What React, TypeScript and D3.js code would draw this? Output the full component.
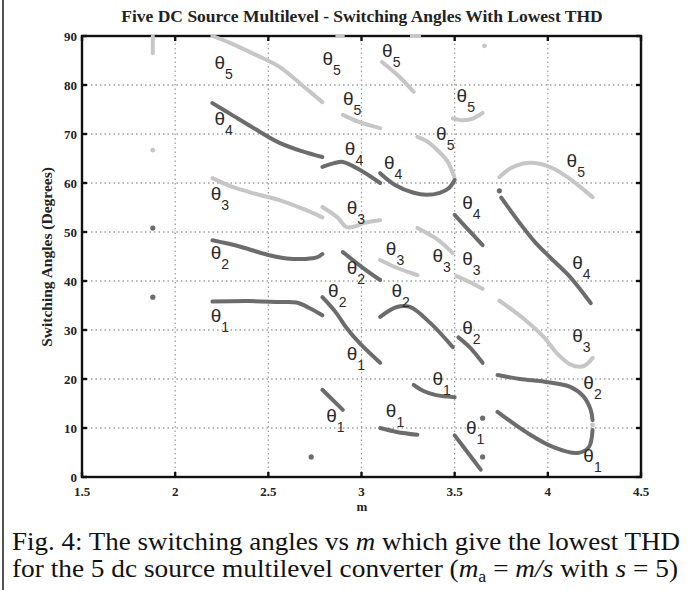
import { useEffect, useRef } from "react"
import * as d3 from "d3"

type Pt = [number, number]

// m vs switching angle (degrees)
const theta1A: Pt[] = [[2.2, 35.8], [2.4, 35.9], [2.56, 35.7], [2.65, 35.6], [2.72, 34.5], [2.79, 33]]
const theta1B: Pt[] = [[2.79, 36.7], [2.86, 33.7], [2.92, 30.4], [2.99, 27.3], [3.1, 23.3]]
const theta1Bs: Pt[] = [[2.79, 17.8], [2.9, 13.7]]
const theta1C: Pt[] = [[3.1, 10], [3.19, 9.2], [3.3, 8.6]]
const theta1D: Pt[] = [[3.28, 18.8], [3.33, 17.6], [3.4, 16.7], [3.5, 16.3]]
const theta1D2: Pt[] = [[3.5, 8.5], [3.57, 5], [3.64, 1.5]]
const theta1E: Pt[] = [[3.73, 13.3], [3.89, 9], [4.03, 6.1], [4.16, 4.9], [4.22, 6.1], [4.24, 9.6]]

const theta2A: Pt[] = [[2.2, 48.3], [2.35, 47], [2.5, 45.3], [2.6, 44.6], [2.7, 44.5], [2.76, 44.8], [2.79, 45.5]]
const theta2B: Pt[] = [[2.9, 45.9], [3.0, 42.9], [3.1, 40.2]]
const theta2C: Pt[] = [[3.1, 32.7], [3.19, 34.7], [3.26, 34.7], [3.37, 31.4], [3.49, 26.5]]
const theta2D: Pt[] = [[3.52, 28.5], [3.58, 26.5], [3.65, 23.3]]
const theta2E: Pt[] = [[3.73, 20.8], [3.85, 20], [3.99, 19.4], [4.12, 18.4], [4.19, 16.5], [4.23, 13.7], [4.24, 11.6]]

const theta3A: Pt[] = [[2.2, 61], [2.3, 59.3], [2.43, 57.8], [2.56, 56.5], [2.68, 54.8], [2.79, 53]]
const theta3B: Pt[] = [[2.79, 55.1], [2.87, 53], [2.92, 51], [2.97, 51.2], [3.01, 51.8], [3.1, 52.4]]
const theta3C: Pt[] = [[3.3, 50.8], [3.41, 48.4], [3.49, 45.7]]
const theta3D: Pt[] = [[3.1, 44.3], [3.19, 42.7], [3.3, 41.2]]
const theta3D2: Pt[] = [[3.51, 41], [3.58, 39.8], [3.65, 38.4]]
const theta3E: Pt[] = [[3.74, 36], [3.88, 32], [3.98, 28.5], [4.05, 25.2], [4.12, 23], [4.19, 22.6], [4.24, 24.3]]

const theta4A: Pt[] = [[2.2, 76.3], [2.3, 74], [2.43, 71], [2.56, 68.2], [2.68, 66.5], [2.79, 65.3]]
const theta4B: Pt[] = [[2.79, 63.3], [2.85, 64], [2.9, 64.3], [2.99, 62.7], [3.1, 60]]
const theta4C: Pt[] = [[3.1, 62], [3.18, 59.6], [3.28, 58], [3.35, 57.6], [3.42, 58], [3.47, 59], [3.5, 60.6]]
const theta4D: Pt[] = [[3.5, 53.5], [3.56, 51], [3.65, 47.3]]
const theta4E: Pt[] = [[3.75, 57], [3.85, 51.8], [3.93, 48], [4.01, 44.9], [4.12, 40.8], [4.23, 35.5]]

const theta5A: Pt[] = [[2.2, 90], [2.3, 88.5], [2.43, 86.2], [2.56, 83.7], [2.68, 80], [2.79, 76.5]]
const theta5B: Pt[] = [[2.9, 73.9], [2.99, 72.4], [3.1, 71.2]]
const theta5C: Pt[] = [[3.11, 84.7], [3.2, 81.8], [3.28, 78.6]]
const theta5D: Pt[] = [[3.3, 69.4], [3.36, 68.3], [3.41, 66.6], [3.46, 64.5], [3.5, 61]]
const theta5D2: Pt[] = [[3.49, 73.2], [3.55, 72.8], [3.6, 73.2], [3.65, 74.3]]
const theta5E: Pt[] = [[3.74, 61.2], [3.8, 63], [3.89, 64.1], [4.01, 63.3], [4.12, 60.8], [4.24, 57.1]]
const theta5Top1: Pt[] = [[2.87, 90], [2.9, 90]]
const theta5Top2: Pt[] = [[3.27, 90], [3.31, 90]]
const theta5Top0: Pt[] = [[1.88, 86.5], [1.88, 90]]

const darkCurves = [theta1A, theta1B, theta1Bs, theta1C, theta1D, theta1D2, theta1E,
  theta2A, theta2B, theta2C, theta2D, theta2E,
  theta4A, theta4B, theta4C, theta4D, theta4E]
const lightCurves = [theta3A, theta3B, theta3C, theta3D, theta3D2, theta3E,
  theta5A, theta5B, theta5C, theta5D, theta5D2, theta5E, theta5Top0, theta5Top1, theta5Top2]

const darkDots: Pt[] = [[1.88, 36.7], [1.88, 50.8], [2.73, 4.1], [3.65, 4.1], [3.65, 12], [3.74, 58.4]]
const lightDots: Pt[] = [[1.88, 66.7], [3.66, 88], [4.24, 10.6]]

// θ labels: m, angle, subscript
const labels: [number, number, string][] = [
  [2.24, 84.7, "5"], [2.24, 73.3, "4"], [2.22, 58, "3"], [2.22, 45.9, "2"], [2.22, 33.1, "1"],
  [2.82, 85.5, "5"], [2.93, 77.3, "5"], [3.14, 87.1, "5"], [3.54, 78, "5"], [3.43, 70.2, "5"], [4.13, 64.7, "5"],
  [2.94, 67.1, "4"], [3.15, 64.3, "4"], [3.57, 56.1, "4"], [4.16, 43.9, "4"],
  [2.95, 55.1, "3"], [3.16, 46.7, "3"], [3.41, 45.3, "3"], [3.57, 44.7, "3"], [4.16, 29, "3"],
  [2.95, 42.9, "2"], [2.85, 38.2, "2"], [3.19, 38.2, "2"], [3.57, 30.6, "2"], [4.22, 19.4, "2"],
  [2.95, 25.3, "1"], [2.84, 12.7, "1"], [3.16, 13.7, "1"], [3.41, 20.2, "1"], [3.59, 10.2, "1"], [4.22, 4.5, "1"],
]

const xTicks = [1.5, 2, 2.5, 3, 3.5, 4, 4.5]
const yTicks = [0, 10, 20, 30, 40, 50, 60, 70, 80, 90]

export default function App() {
  const svgRef = useRef<SVGSVGElement>(null)

  useEffect(() => {
    const svg = d3.select(svgRef.current!)
    svg.selectAll("*").remove()

    const x = d3.scaleLinear().domain([1.5, 4.5]).range([82, 641])
    const y = d3.scaleLinear().domain([0, 90]).range([477, 36])
    const serif = "'Liberation Serif', 'Times New Roman', serif"

    // page rule on the left
    svg.append("line").attr("x1", 3).attr("x2", 3).attr("y1", 0).attr("y2", 590)
      .attr("stroke", "#555").attr("stroke-width", 2)

    // grid
    const grid = svg.append("g").attr("stroke", "#a0a0a0").attr("stroke-width", 1.3)
      .attr("stroke-dasharray", "1.5,3")
    grid.selectAll(".gv").data(xTicks.slice(1, -1)).join("line").attr("class", "gv")
      .attr("x1", (d) => x(d)).attr("x2", (d) => x(d)).attr("y1", y(0)).attr("y2", y(90))
    grid.selectAll(".gh").data(yTicks.slice(1, -1)).join("line").attr("class", "gh")
      .attr("x1", x(1.5)).attr("x2", x(4.5)).attr("y1", (d) => y(d)).attr("y2", (d) => y(d))

    // frame
    svg.append("rect").attr("x", x(1.5)).attr("y", y(90))
      .attr("width", x(4.5) - x(1.5)).attr("height", y(0) - y(90))
      .attr("fill", "none").attr("stroke", "#111").attr("stroke-width", 2.4)
    const ticks = svg.append("g").attr("stroke", "#111").attr("stroke-width", 2.4)
    xTicks.forEach((t) => {
      ticks.append("line").attr("x1", x(t)).attr("x2", x(t)).attr("y1", y(0)).attr("y2", y(0) - 5)
      ticks.append("line").attr("x1", x(t)).attr("x2", x(t)).attr("y1", y(90)).attr("y2", y(90) + 5)
    })
    yTicks.forEach((t) => {
      ticks.append("line").attr("x1", x(1.5)).attr("x2", x(1.5) + 5).attr("y1", y(t)).attr("y2", y(t))
      ticks.append("line").attr("x1", x(4.5)).attr("x2", x(4.5) - 5).attr("y1", y(t)).attr("y2", y(t))
    })

    // curves
    const line = d3.line<Pt>().x((d) => x(d[0])).y((d) => y(d[1])).curve(d3.curveCatmullRom)
    const curves = svg.append("g").attr("fill", "none").attr("stroke-width", 4)
      .attr("stroke-linecap", "round").attr("stroke-linejoin", "round")
    curves.selectAll(".lc").data(lightCurves).join("path").attr("class", "lc")
      .attr("d", (d) => line(d)).attr("stroke", "#c6c6c6")
    curves.selectAll(".dc").data(darkCurves).join("path").attr("class", "dc")
      .attr("d", (d) => line(d)).attr("stroke", "#6c6c6c")
    svg.append("g").selectAll("circle").data(darkDots).join("circle")
      .attr("cx", (d) => x(d[0])).attr("cy", (d) => y(d[1])).attr("r", 2.6).attr("fill", "#6c6c6c")
    svg.append("g").selectAll("circle").data(lightDots).join("circle")
      .attr("cx", (d) => x(d[0])).attr("cy", (d) => y(d[1])).attr("r", 2.4).attr("fill", "#c6c6c6")

    // θ labels
    const lab = svg.append("g").attr("font-family", "'Liberation Sans', Arial, sans-serif").attr("fill", "#2a2a2a")
    labels.forEach(([m, a, s]) => {
      const t = lab.append("text").attr("x", x(m) - 5.5).attr("y", y(a) + 7).attr("font-size", 19)
      t.append("tspan").text("θ")
      t.append("tspan").attr("font-size", 14).attr("dy", 10).text(s)
    })

    // tick labels
    const tl = svg.append("g").attr("font-family", serif).attr("font-weight", "bold").attr("font-size", 13)
      .attr("fill", "#222")
    xTicks.forEach((t) => {
      tl.append("text").attr("x", x(t)).attr("y", 496).attr("text-anchor", "middle").text(String(t))
    })
    yTicks.forEach((t) => {
      tl.append("text").attr("x", x(1.5) - 5).attr("y", y(t) + 4.5).attr("text-anchor", "end").text(String(t))
    })

    // titles
    svg.append("text").attr("x", 362).attr("y", 22).attr("text-anchor", "middle")
      .attr("font-family", serif).attr("font-weight", "bold").attr("font-size", 17.5).attr("fill", "#222")
      .text("Five DC Source Multilevel - Switching Angles With Lowest THD")
    svg.append("text").attr("x", 362).attr("y", 511).attr("text-anchor", "middle")
      .attr("font-family", serif).attr("font-weight", "bold").attr("font-size", 13).attr("fill", "#222")
      .text("m")
    svg.append("text").attr("transform", "translate(52,257) rotate(-90)").attr("text-anchor", "middle")
      .attr("font-family", serif).attr("font-weight", "bold").attr("font-size", 15.5).attr("fill", "#222")
      .text("Switching Angles (Degrees)")

    // caption
    const cap = svg.append("g").attr("font-family", serif).attr("font-size", 26).attr("fill", "#111")
    const l1 = cap.append("text").attr("x", 12).attr("y", 550)
      .attr("textLength", 668).attr("lengthAdjust", "spacingAndGlyphs")
    l1.append("tspan").text("Fig. 4: The switching angles vs ")
    l1.append("tspan").attr("font-style", "italic").text("m")
    l1.append("tspan").text(" which give the lowest THD")
    const l2 = cap.append("text").attr("x", 12).attr("y", 577)
      .attr("textLength", 666).attr("lengthAdjust", "spacingAndGlyphs")
    l2.append("tspan").text("for the 5 dc source multilevel converter (")
    l2.append("tspan").attr("font-style", "italic").text("m")
    l2.append("tspan").attr("font-size", 17).attr("dy", 5).text("a")
    l2.append("tspan").attr("dy", -5).text(" = ")
    l2.append("tspan").attr("font-style", "italic").text("m/s")
    l2.append("tspan").text(" with ")
    l2.append("tspan").attr("font-style", "italic").text("s")
    l2.append("tspan").text(" = 5)")
  }, [])

  return (
    <svg
      ref={svgRef}
      width={687}
      height={590}
      style={{ position: "absolute", left: 0, top: 0, background: "#fff" }}
    />
  )
}
